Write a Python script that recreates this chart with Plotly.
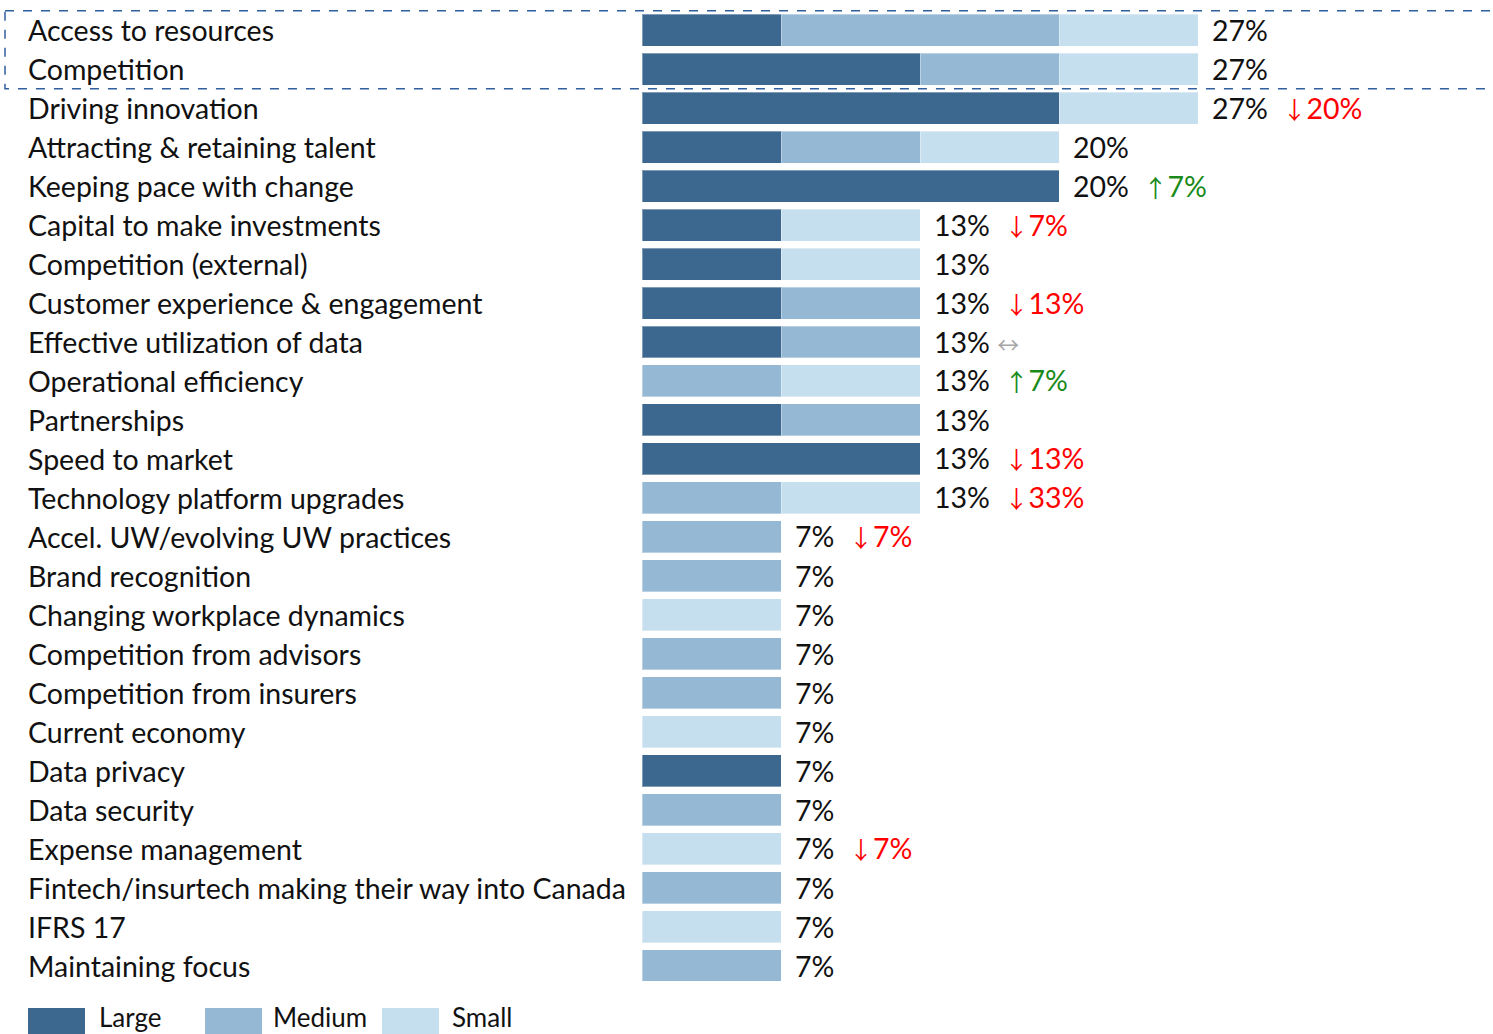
import plotly.graph_objects as go

# Survey responses (number of respondents, out of 15) by company size
N_RESPONDENTS = 15

categories = [
    "Access to resources",
    "Competition",
    "Driving innovation",
    "Attracting & retaining talent",
    "Keeping pace with change",
    "Capital to make investments",
    "Competition (external)",
    "Customer experience & engagement",
    "Effective utilization of data",
    "Operational efficiency",
    "Partnerships",
    "Speed to market",
    "Technology platform upgrades",
    "Accel. UW/evolving UW practices",
    "Brand recognition",
    "Changing workplace dynamics",
    "Competition from advisors",
    "Competition from insurers",
    "Current economy",
    "Data privacy",
    "Data security",
    "Expense management",
    "Fintech/insurtech making their way into Canada",
    "IFRS 17",
    "Maintaining focus",
]

large = [1, 2, 3, 1, 3, 1, 1, 1, 1, 0, 1, 2, 0, 0, 0, 0, 0, 0, 0, 1, 0, 0, 0, 0, 0]
medium = [2, 1, 0, 1, 0, 0, 0, 1, 1, 1, 1, 0, 1, 1, 1, 0, 1, 1, 0, 0, 1, 0, 1, 0, 1]
small = [1, 1, 1, 1, 0, 1, 1, 0, 0, 1, 0, 0, 1, 0, 0, 1, 0, 0, 1, 0, 0, 1, 0, 1, 0]

# Year-over-year change: (direction, text); "" = no change shown
changes = [
    ("", ""), ("", ""), ("down", "20%"), ("", ""), ("up", "7%"),
    ("down", "7%"), ("", ""), ("down", "13%"), ("flat", ""), ("up", "7%"),
    ("", ""), ("down", "13%"), ("down", "33%"), ("down", "7%"), ("", ""),
    ("", ""), ("", ""), ("", ""), ("", ""), ("", ""),
    ("", ""), ("down", "7%"), ("", ""), ("", ""), ("", ""),
]

series_names = ["Large", "Medium", "Small"]
series_colors = ["#3c6890", "#95b9d4", "#c6dfef"]

W, H = 1493, 1034
ML, MR, MT, MB = 642, 17, 10, 49
PW, PH = W - ML - MR, H - MT - MB
FONT = "Lato"
FS = 28.5
ARROW_FONT = "Noto Sans CJK SC"
TEXT = "#111111"


def paper_x(px):
    return (px - ML) / PW


def paper_y(py):
    return (H - MB - py) / PH


def pct(v):
    return v / N_RESPONDENTS * 100


fig = go.Figure()
for name, vals, color in zip(series_names, [large, medium, small], series_colors):
    fig.add_trace(go.Bar(
        y=categories,
        x=[pct(v) for v in vals],
        name=name,
        orientation="h",
        marker=dict(color=color, line=dict(color="rgba(255,255,255,0.35)", width=1)),
        hoverinfo="x+y+name",
        showlegend=False,
    ))

annotations = []
arrow_glyph = {"down": "↓", "up": "↑", "flat": "↔"}
arrow_color = {"down": "#ff0000", "up": "#1a8a1a", "flat": "#a6a6a6"}

for cat, l, m, s, (d, txt) in zip(categories, large, medium, small, changes):
    total = pct(l + m + s)
    label = f"{round(total)}%"
    if d == "flat":
        label += "&nbsp;" + (
            f"<span style='color:{arrow_color[d]};font-family:{ARROW_FONT};font-size:22px'>"
            f"{arrow_glyph[d]}</span>"
        )
    elif d:
        label += "&nbsp;&nbsp;" + (
            f"<span style='color:{arrow_color[d]}'>"
            f"<span style='font-family:{ARROW_FONT};font-size:24px'>{arrow_glyph[d]}</span>{txt}</span>"
        )
    annotations.append(dict(
        x=total, y=cat, xref="x", yref="y", text=label, showarrow=False,
        xanchor="left", yanchor="middle", xshift=12,
        font=dict(family=FONT, size=FS, color=TEXT),
    ))
    # left-aligned category labels
    annotations.append(dict(
        x=paper_x(26), y=cat, xref="paper", yref="y", text=cat, showarrow=False,
        xanchor="left", yanchor="middle",
        font=dict(family=FONT, size=FS, color=TEXT),
    ))

shapes = [
    # dashed outline around the two leading rows
    dict(type="rect", xref="paper", yref="y",
         x0=paper_x(5), x1=paper_x(1498), y0=-0.5, y1=1.5,
         line=dict(color="#2f5f9e", width=1.5, dash="dash"), layer="above"),
]

# legend keys
legend_items = [(28, 97), (205, 271), (382, 450)]
for (sx, tx), name, color in zip(legend_items, series_names, series_colors):
    shapes.append(dict(type="rect", xref="paper", yref="paper",
                       x0=paper_x(sx), x1=paper_x(sx + 57),
                       y0=paper_y(1036), y1=paper_y(1008),
                       fillcolor=color, line=dict(width=0)))
    annotations.append(dict(
        x=paper_x(tx), y=paper_y(1017), xref="paper", yref="paper",
        text=name, showarrow=False, xanchor="left", yanchor="middle",
        font=dict(family=FONT, size=26, color=TEXT),
    ))

fig.update_layout(
    width=W, height=H,
    margin=dict(l=ML, r=MR, t=MT, b=MB),
    barmode="stack",
    bargap=0.18,
    plot_bgcolor="white",
    paper_bgcolor="white",
    xaxis=dict(range=[0, 40], visible=False, fixedrange=True),
    yaxis=dict(autorange="reversed", visible=False, fixedrange=True),
    annotations=annotations,
    shapes=shapes,
)

fig.write_html("out.html")
